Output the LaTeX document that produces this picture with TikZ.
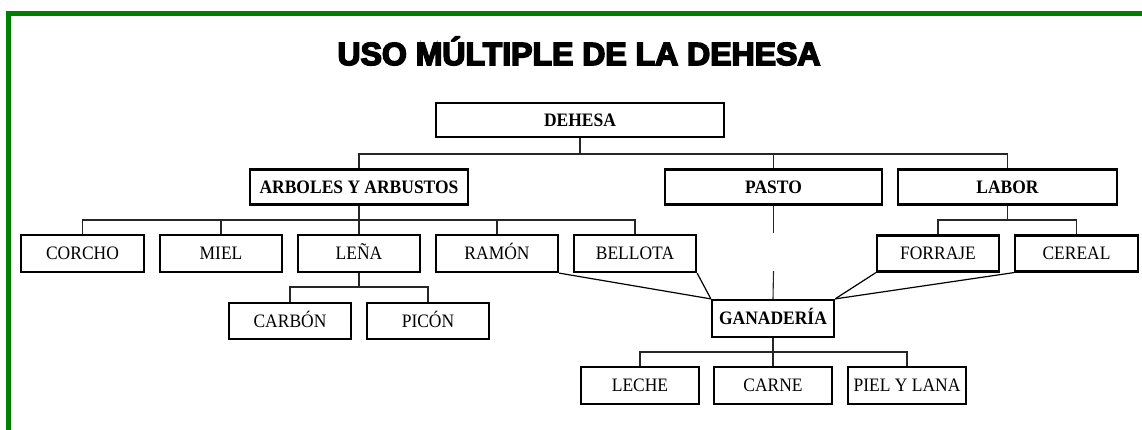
\documentclass[tikz,border=0pt]{standalone}
\usepackage{fontspec}
\setmainfont{Liberation Serif}[FakeStretch=0.92]
\newfontfamily\titlefont{Liberation Sans Bold}[FakeBold=5]
\definecolor{brd}{RGB}{0,128,0}
\tikzset{
  box/.style={draw=black, line width=2.2pt, fill=white, inner sep=0pt,
    font=\fontsize{19}{22}\selectfont, text height=12.5pt, text depth=0pt},
  bbox/.style={box, font=\fontsize{19}{22}\selectfont\bfseries},
  conn/.style={draw=black!85, line width=1.1pt},
  tie/.style={draw=black, line width=1.2pt},
  frame/.style={draw=brd, line width=4.6pt}
}
\begin{document}
\begin{tikzpicture}[x=1pt,y=-1pt]
\useasboundingbox (0,0) rectangle (1142,430);
\draw[frame] (8.3,432) -- (8.3,13.5) -- (1144,13.5);
\node[font=\titlefont\fontsize{32}{36}\selectfont, inner sep=0pt] (title) at (579,51) {USO MÚLTIPLE DE LA DEHESA};

% level 0
\node[bbox, minimum width=288, minimum height=34] (dehesa) at (580,120) {DEHESA};
% level 1
\node[bbox, minimum width=218, minimum height=35] (arboles) at (359,187) {ARBOLES Y ARBUSTOS};
\node[bbox, minimum width=217, minimum height=35] (pasto) at (773.5,187) {PASTO};
\node[bbox, minimum width=219, minimum height=35] (labor) at (1007.5,187) {LABOR};
% level 2
\node[box, minimum width=123, minimum height=37] (corcho) at (82.5,253.5) {CORCHO};
\node[box, minimum width=122, minimum height=37] (miel) at (221,253.5) {MIEL};
\node[box, minimum width=122, minimum height=37] (lena) at (359,253.5) {LEÑA};
\node[box, minimum width=122, minimum height=37] (ramon) at (497,253.5) {RAMÓN};
\node[box, minimum width=122, minimum height=37] (bellota) at (635,253.5) {BELLOTA};
\node[box, minimum width=122, minimum height=36] (forraje) at (938,253.5) {FORRAJE};
\node[box, minimum width=123, minimum height=36] (cereal) at (1076.5,253.5) {CEREAL};
% level 3
\node[box, minimum width=122, minimum height=36] (carbon) at (290,321) {CARBÓN};
\node[box, minimum width=122, minimum height=36] (picon) at (428,321) {PICÓN};
\node[bbox, minimum width=122, minimum height=37] (ganaderia) at (773,318.5) {GANADERÍA};
% level 4
\node[box, minimum width=118, minimum height=37] (leche) at (640,385.5) {LECHE};
\node[box, minimum width=118, minimum height=37] (carne) at (773,385.5) {CARNE};
\node[box, minimum width=118, minimum height=37] (piel) at (907,385.5) {PIEL Y LANA};

% bus lines
\coordinate (h1) at (0,154);
\coordinate (h2) at (0,220);
\coordinate (h3) at (0,287);
\coordinate (h4) at (0,352);
\coordinate (gapTop) at (773.5,233);
\coordinate (gapBot) at (773.5,271);

\draw[conn] (dehesa.south) -- (dehesa.south |- h1);
\draw[conn] (arboles.north) -- (arboles.north |- h1) -- (labor.north |- h1) -- (labor.north);
\draw[conn] (pasto.north) -- (pasto.north |- h1);

\draw[conn] (arboles.south) -- (lena.north);
\draw[conn] (corcho.north) -- (corcho.north |- h2) -- (bellota.north |- h2) -- (bellota.north);
\draw[conn] (miel.north) -- (miel.north |- h2);
\draw[conn] (ramon.north) -- (ramon.north |- h2);

\draw[conn] (labor.south) -- (labor.south |- h2);
\draw[conn] (forraje.north) -- (forraje.north |- h2) -- (cereal.north |- h2) -- (cereal.north);

\draw[conn] (lena.south) -- (lena.south |- h3);
\draw[conn] (carbon.north) -- (carbon.north |- h3) -- (picon.north |- h3) -- (picon.north);

\draw[conn] (pasto.south) -- (gapTop);
\draw[conn] (gapBot) -- (ganaderia.north);

\draw[conn] (ganaderia.south) -- (carne.north);
\draw[conn] (leche.north) -- (leche.north |- h4) -- (piel.north |- h4) -- (piel.north);

\draw[tie] (ramon.south east) -- (ganaderia.north west);
\draw[tie] (bellota.south east) -- (ganaderia.north west);
\draw[tie] (forraje.south west) -- (ganaderia.north east);
\draw[tie] (cereal.south west) -- (ganaderia.north east);
\end{tikzpicture}
\end{document}
